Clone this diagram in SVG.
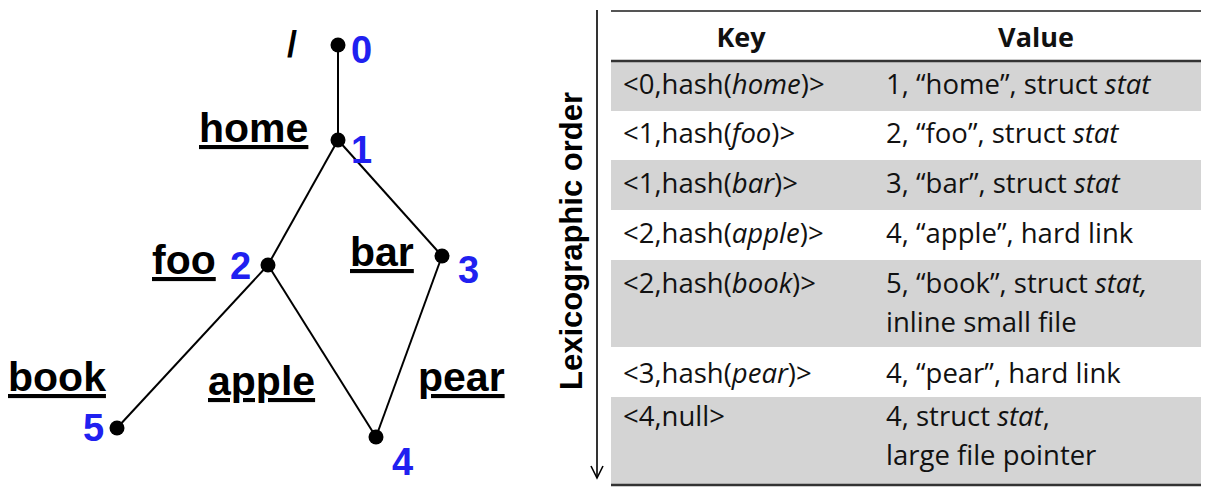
<svg xmlns="http://www.w3.org/2000/svg" width="1212" height="493" viewBox="0 0 1212 493">
<style>
.lbl{font-family:"Liberation Sans",Arial,sans-serif;font-weight:bold;font-size:41px;fill:#000;text-decoration:underline;}
.num{font-family:"Liberation Sans",Arial,sans-serif;font-weight:bold;font-size:38px;fill:#2020f0;}
.dot{fill:#000;}
.edge{stroke:#000;stroke-width:2;fill:none;}
.cell{font-family:"Open Sans","Noto Sans",sans-serif;font-size:27.5px;fill:#111;}
.hdr{font-family:"Open Sans","Noto Sans",sans-serif;font-size:27px;font-weight:bold;fill:#111;text-anchor:middle;}
.gray{fill:#d4d4d4;}
.vlab{font-family:"Liberation Sans",Arial,sans-serif;font-weight:bold;font-size:31px;fill:#000;text-anchor:middle;}
</style>
<rect width="1212" height="493" fill="#fff"/>

<g id="connectors">
<line class="edge" x1="338" y1="45" x2="338" y2="140"/>
<line class="edge" x1="338" y1="140" x2="268" y2="265"/>
<line class="edge" x1="338" y1="140" x2="442" y2="256"/>
<line class="edge" x1="268" y1="265" x2="117" y2="428"/>
<line class="edge" x1="268" y1="265" x2="376" y2="437"/>
<line class="edge" x1="442" y1="256" x2="376" y2="437"/>
</g>

<g id="node0">
<circle class="dot" cx="338" cy="45" r="7.5"/>
<text x="287" y="57" style="font-family:'Liberation Sans',Arial,sans-serif;font-weight:bold;font-size:36px">/</text>
<text class="num" x="351" y="63">0</text>
</g>
<g id="node1">
<circle class="dot" cx="338" cy="140" r="7.5"/>
<text class="lbl" x="199" y="142">home</text>
<text class="num" x="351" y="163">1</text>
</g>
<g id="node2">
<circle class="dot" cx="268" cy="265" r="7.5"/>
<text class="lbl" x="152" y="274">foo</text>
<text class="num" x="230" y="279">2</text>
</g>
<g id="node3">
<circle class="dot" cx="442" cy="256" r="7.5"/>
<text class="lbl" x="350" y="266">bar</text>
<text class="num" x="458" y="283">3</text>
</g>
<g id="node4">
<circle class="dot" cx="376" cy="437" r="7.5"/>
<text class="lbl" x="208" y="395">apple</text>
<text class="lbl" x="418" y="391">pear</text>
<text class="num" x="392" y="475">4</text>
</g>
<g id="node5">
<circle class="dot" cx="117" cy="428" r="7.5"/>
<text class="lbl" x="8" y="391">book</text>
<text class="num" x="83" y="441">5</text>
</g>

<g id="order-axis">
<line x1="597" y1="10" x2="597" y2="478" stroke="#000" stroke-width="1.6"/>
<polyline points="591,466 597,478 603,466" fill="none" stroke="#000" stroke-width="1.6"/>
<text class="vlab" transform="translate(582,241) rotate(-90)">Lexicographic order</text>
</g>

<g id="table">
<rect class="gray" x="611" y="61" width="590" height="50"/>
<rect class="gray" x="611" y="160" width="590" height="50"/>
<rect class="gray" x="611" y="260" width="590" height="87"/>
<rect class="gray" x="611" y="397" width="590" height="88"/>
<line x1="611" y1="11" x2="1201" y2="11" stroke="#555" stroke-width="2"/>
<line x1="611" y1="61" x2="1201" y2="61" stroke="#333" stroke-width="2.5"/>
<line x1="611" y1="485" x2="1201" y2="485" stroke="#333" stroke-width="2.5"/>
<text class="hdr" x="741" y="47">Key</text>
<text class="hdr" x="1036" y="47">Value</text>

<text class="cell" x="623" y="94">&lt;0,hash(<tspan font-style="italic">home</tspan>)&gt;</text>
<text class="cell" x="886" y="94">1, “home”, struct <tspan font-style="italic">stat</tspan></text>

<text class="cell" x="623" y="143">&lt;1,hash(<tspan font-style="italic">foo</tspan>)&gt;</text>
<text class="cell" x="886" y="143">2, “foo”, struct <tspan font-style="italic">stat</tspan></text>

<text class="cell" x="623" y="193">&lt;1,hash(<tspan font-style="italic">bar</tspan>)&gt;</text>
<text class="cell" x="886" y="193">3, “bar”, struct <tspan font-style="italic">stat</tspan></text>

<text class="cell" x="623" y="243">&lt;2,hash(<tspan font-style="italic">apple</tspan>)&gt;</text>
<text class="cell" x="886" y="243">4, “apple”, hard link</text>

<text class="cell" x="623" y="293">&lt;2,hash(<tspan font-style="italic">book</tspan>)&gt;</text>
<text class="cell" x="886" y="293">5, “book”, struct <tspan font-style="italic">stat,</tspan></text>
<text class="cell" x="886" y="332">inline small file</text>

<text class="cell" x="623" y="383">&lt;3,hash(<tspan font-style="italic">pear</tspan>)&gt;</text>
<text class="cell" x="886" y="383">4, “pear”, hard link</text>

<text class="cell" x="623" y="426">&lt;4,null&gt;</text>
<text class="cell" x="886" y="426">4, struct <tspan font-style="italic">stat</tspan>,</text>
<text class="cell" x="886" y="465">large file pointer</text>
</g>
</svg>
